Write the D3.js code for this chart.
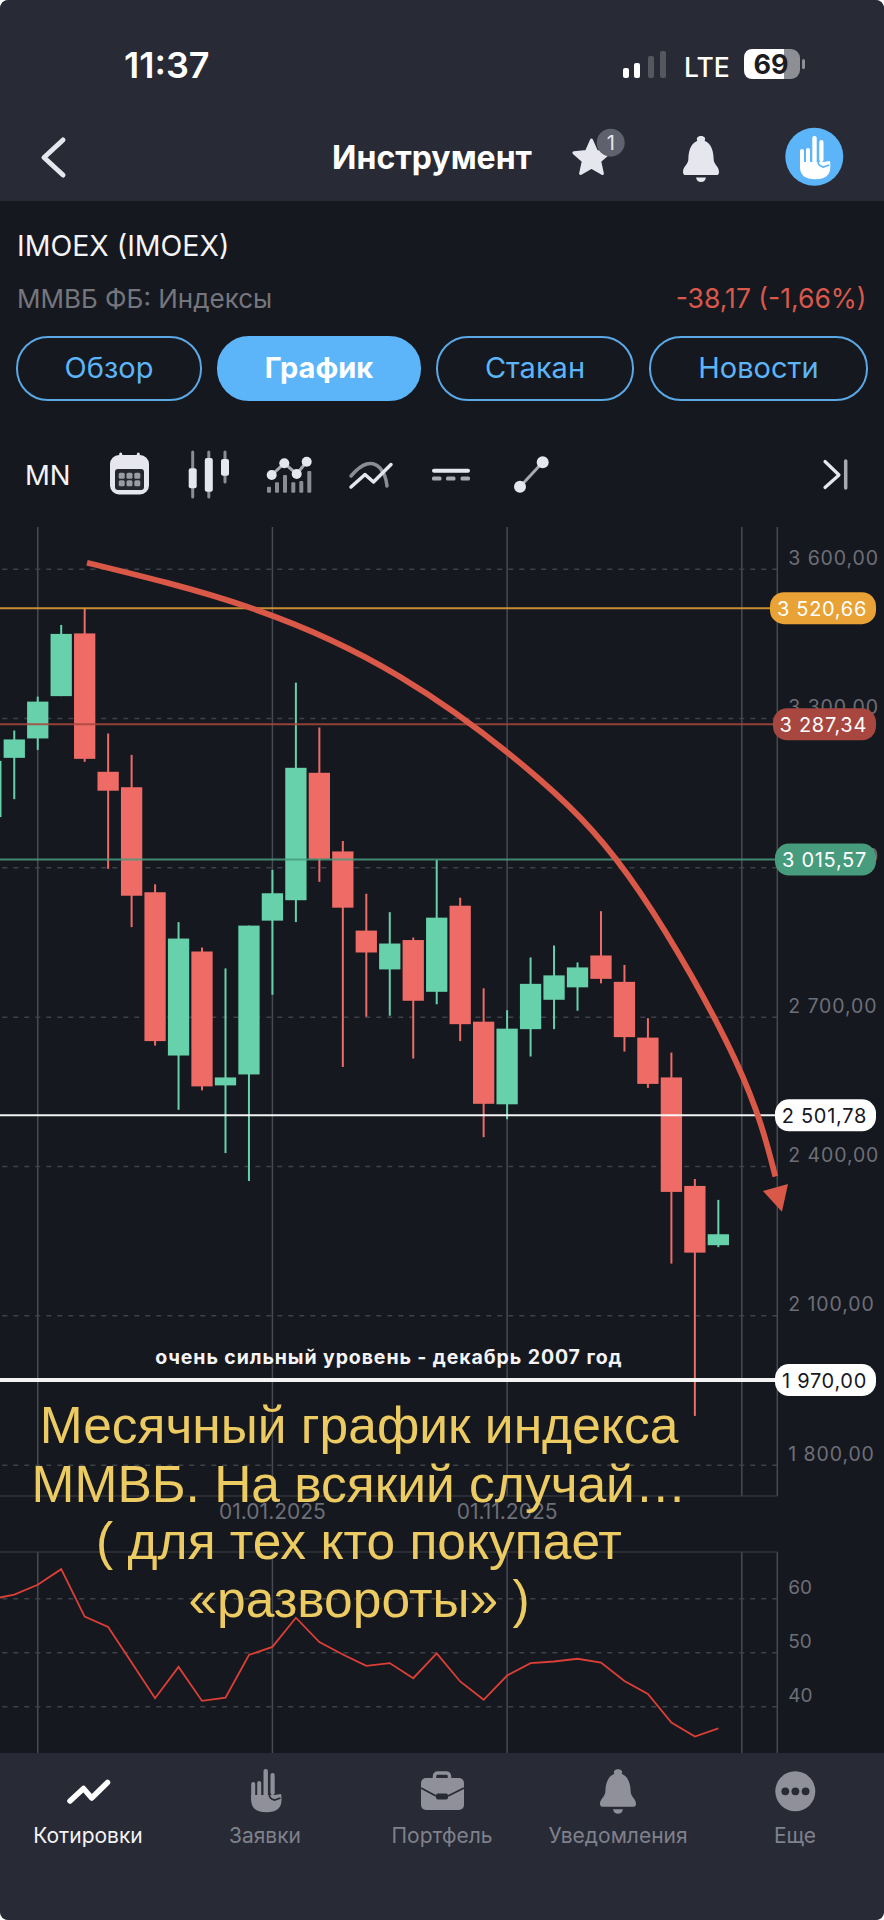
<!DOCTYPE html>
<html>
<head>
<meta charset="utf-8">
<script src="https://cdn.jsdelivr.net/npm/d3@7"></script>
<style>
  html, body { margin: 0; padding: 0; background: #fff; }
  svg { display: block; }
  text { font-family: Inter, "Noto Sans", sans-serif; }
  .axis path.domain { display: none; }
</style>
</head>
<body>
<svg id="screen" width="884" height="1920"></svg>
<script>
// Monthly candles
const months = ["01.2024","02.2024","03.2024","04.2024","05.2024","06.2024","07.2024","08.2024","09.2024","10.2024","11.2024","12.2024",
  "01.2025","02.2025","03.2025","04.2025","05.2025","06.2025","07.2025","08.2025","09.2025","10.2025","11.2025","12.2025",
  "01.2026","02.2026","03.2026","04.2026","05.2026","06.2026","07.2026","08.2026"];
const opens = [3101,3220,3259,3344,3470,3192,3161,2950,2622,2831,2562,2584,2893,2934,3190,3032,2873,2795,2854,2750,2923,2690,2524,2675,2734,2759,2823,2770,2658,2578,2360,2241];
const highs = [3214,3275,3343,3487,3520,3269,3226,2966,2890,2839,2797,2883,2995,3371,3281,3053,2947,2910,2859,3015,2939,2757,2713,2819,2843,2809,2912,2804,2697,2628,2374,2332];
const lows = [3101,3137,3236,3344,3212,2997,2880,2642,2513,2552,2426,2370,2744,2890,2971,2599,2700,2702,2616,2725,2651,2458,2494,2620,2675,2712,2767,2630,2557,2204,1898,2237];
const closes = [3214,3257,3333,3469,3218,3154,2943,2651,2857,2560,2578,2883,2948,3200,3017,2919,2829,2847,2732,2899,2685,2525,2676,2766,2783,2799,2776,2659,2565,2348,2226,2263];

// RSI pane
const rsiValues = [59.8,60.7,62.5,65.4,56.6,54.7,48.1,41.5,47.3,41,41.6,49.5,51,56.4,51.9,49.6,47.5,48,45.2,49.8,44.6,41.2,45.7,48,48.3,48.8,48.1,44.7,42.3,37,34.4,35.9];

// Axes
const priceTicks = [3600,3300,3000,2700,2400,2100,1800];
const rsiTicks = [60,50,40];
const gridMonths = [2,12,22,32];
const dateTicks = [12,22];
const dateLabels = ["01.01.2025","01.11.2025"];

// Horizontal levels
const levelPrices = [3520.66,3287.34,3015.57,2501.78,1970];

// Hand drawn arrow over the chart, in month index / price
const arrowMonths = [4.1,10.9,17.43,23.4,27.66,31.72,33.43];
const arrowPrices = [3612,3524,3383,3176,2950,2613,2379];
const headMonths = [33.71,32.9,33.97];
const headPrices = [2308,2350,2364];

const headlines = ["Месячный график индекса","ММВБ. На всякий случай…","( для тех кто покупает","«развороты» )"];

const colors = {
  bar: "#282a35", bg: "#16181f", up: "#66d1aa", down: "#ee6b66",
  grid: "#484a53", dash: "#3f4149", tick: "#6d6f78", blue: "#5cb5f8",
  icon: "#e6e7ee", iconDim: "#8f9099", navText: "#7f818c", arrow: "#d95848", note: "#eccb62"
};
const levelColors = ["#e8a236","#a8473f","#479c7e","#ffffff","#ffffff"];
const levelWidths = [2,2,2,2,4];
const pillLefts = [770,773,775,775,775];

const W = 884, H = 1920;
const axisX = 777.3;
const mainBottom = 1496, rsiTop = 1552, navTop = 1753;

const x = d3.scaleLinear().domain([0, 32]).range([-9.2, 741.8]);
const y = d3.scaleLinear().domain([3600, 1800]).range([568.7, 1464.7]);
const yRsi = d3.scaleLinear().domain([60, 40]).range([1598.3, 1706.3]);

const svg = d3.select("#screen");

function label(parent, px, py, str, size, fill, opts = {}) {
  return parent.append("text")
    .attr("x", px).attr("y", py)
    .attr("font-size", size).attr("fill", fill)
    .attr("font-weight", opts.weight || 400)
    .attr("text-anchor", opts.anchor || "start")
    .attr("letter-spacing", opts.spacing || 0)
    .style("font-family", opts.family || null)
    .text(str);
}

function priceFormat(v) {
  return d3.format(",.2f")(v).replace(/,/g, " ").replace(".", ",");
}

// Backgrounds
svg.append("rect").attr("width", W).attr("height", H).attr("rx", 9).attr("fill", colors.bg);
svg.append("path")
  .attr("d", `M0,201 V9 Q0,0 9,0 H${W - 9} Q${W},0 ${W},9 V201 Z`)
  .attr("fill", colors.bar);

// Vertical grid
const grid = svg.append("g");
grid.selectAll("line.main").data(gridMonths).join("line")
  .attr("class", "main")
  .attr("x1", (d) => x(d)).attr("x2", (d) => x(d))
  .attr("y1", 527).attr("y2", mainBottom);
grid.selectAll("line.rsi").data(gridMonths).join("line")
  .attr("class", "rsi")
  .attr("x1", (d) => x(d)).attr("x2", (d) => x(d))
  .attr("y1", rsiTop).attr("y2", navTop);
grid.selectAll("line").attr("stroke", colors.grid).attr("stroke-width", 1.5);

// Price axis
const priceAxis = svg.append("g")
  .attr("class", "axis")
  .attr("transform", `translate(${axisX},0)`)
  .call(d3.axisRight(y).tickValues(priceTicks).tickFormat(priceFormat).tickSizeInner(-axisX).tickSizeOuter(0).tickPadding(11));
priceAxis.selectAll("line").attr("stroke", colors.dash).attr("stroke-width", 1.5).attr("stroke-dasharray", "5 6");
priceAxis.selectAll("text")
  .attr("dy", -4.7).attr("fill", colors.tick).attr("font-size", 19.5).attr("letter-spacing", 0.9)
  .style("font-family", "Inter");

// Right border and pane bottom
svg.append("line").attr("x1", axisX).attr("x2", axisX).attr("y1", 527).attr("y2", mainBottom).attr("stroke", colors.grid).attr("stroke-width", 1.5);
svg.append("line").attr("x1", 0).attr("x2", axisX).attr("y1", mainBottom).attr("y2", mainBottom).attr("stroke", colors.dash).attr("stroke-width", 1);
svg.append("line").attr("x1", axisX).attr("x2", axisX).attr("y1", rsiTop).attr("y2", navTop).attr("stroke", colors.grid).attr("stroke-width", 1.5);
svg.append("line").attr("x1", 0).attr("x2", axisX).attr("y1", rsiTop).attr("y2", rsiTop).attr("stroke", colors.dash).attr("stroke-width", 1);

// Date labels
svg.selectAll("text.date").data(dateTicks).join("text")
  .attr("class", "date")
  .attr("x", (d) => x(d)).attr("y", 1519)
  .attr("text-anchor", "middle").attr("font-size", 21).attr("fill", colors.tick)
  .text((d, i) => dateLabels[i]);

// Candles
const candleData = months.map((m, i) => ({ i, open: opens[i], high: highs[i], low: lows[i], close: closes[i] }));
const candleWidth = 21.3;
const candles = svg.append("g").selectAll("g").data(candleData).join("g");
candles.append("line")
  .attr("x1", (d) => x(d.i)).attr("x2", (d) => x(d.i))
  .attr("y1", (d) => y(d.high)).attr("y2", (d) => y(d.low))
  .attr("stroke-width", 2)
  .attr("stroke", (d) => (d.close >= d.open ? colors.up : colors.down));
candles.append("rect")
  .attr("x", (d) => x(d.i) - candleWidth / 2)
  .attr("width", candleWidth)
  .attr("y", (d) => y(Math.max(d.open, d.close)))
  .attr("height", (d) => Math.abs(y(d.open) - y(d.close)))
  .attr("fill", (d) => (d.close >= d.open ? colors.up : colors.down));

// Levels
svg.append("g").selectAll("line").data(levelPrices).join("line")
  .attr("x1", 0).attr("x2", (d, i) => pillLefts[i] + 2)
  .attr("y1", (d) => y(d)).attr("y2", (d) => y(d))
  .attr("stroke", (d, i) => levelColors[i])
  .attr("stroke-width", (d, i) => levelWidths[i])
  .attr("opacity", (d, i) => (i < 3 ? 0.85 : 0.95));

// Note above the 1970 level
label(svg, 388.8, 1364, "очень сильный уровень - декабрь 2007 год", 19.5, "#f4f4f6", { weight: 700, anchor: "middle", spacing: 0.9, family: "Inter" });

// RSI
const rsiPane = svg.append("g").attr("class", "axis").attr("transform", `translate(${axisX},0)`)
  .call(d3.axisRight(yRsi).tickValues(rsiTicks).tickSizeInner(-axisX).tickSizeOuter(0).tickPadding(11));
rsiPane.selectAll("line").attr("stroke", colors.dash).attr("stroke-width", 1.5).attr("stroke-dasharray", "5 6");
rsiPane.selectAll("text").attr("dy", -4.5).attr("fill", colors.tick).attr("font-size", 19).style("font-family", "Inter");

svg.append("path")
  .datum(rsiValues)
  .attr("fill", "none").attr("stroke", "#dc3f35").attr("stroke-width", 1.8)
  .attr("d", d3.line().x((d, i) => x(i)).y((d) => yRsi(d)));

// Nav at the bottom
svg.append("path")
  .attr("d", `M0,${navTop} H${W} V${H - 9} Q${W},${H} ${W - 9},${H} H9 Q0,${H} 0,${H - 9} Z`)
  .attr("fill", colors.bar);

// Arrow
svg.append("path")
  .datum(arrowMonths.map((m, i) => [m, arrowPrices[i]]))
  .attr("fill", "none").attr("stroke", colors.arrow).attr("stroke-width", 5.8)
  .attr("d", d3.line().x((d) => x(d[0])).y((d) => y(d[1])).curve(d3.curveNatural));
svg.append("path")
  .datum(headMonths.map((m, i) => [m, headPrices[i]]))
  .attr("fill", colors.arrow)
  .attr("d", (d) => d3.line().x((p) => x(p[0])).y((p) => y(p[1]))(d) + "Z");

// Level pills
const pills = svg.append("g").selectAll("g").data(levelPrices).join("g");
pills.append("rect")
  .attr("x", (d, i) => pillLefts[i]).attr("width", (d, i) => 876 - pillLefts[i])
  .attr("y", (d) => y(d) - 16).attr("height", 32).attr("rx", 14)
  .attr("fill", (d, i) => levelColors[i]);
pills.append("text")
  .attr("x", 867).attr("y", (d) => y(d) + 7.5)
  .attr("text-anchor", "end").attr("font-size", 20).attr("letter-spacing", 0.7)
  .attr("fill", (d, i) => (i > 2 ? "#16181f" : "#fff"))
  .text(priceFormat);

// Headline painted over the picture
const headlineY = [1443, 1501.5, 1559, 1617];
svg.append("g").selectAll("text").data(headlines).join("text")
  .attr("x", 359).attr("y", (d, i) => headlineY[i])
  .attr("text-anchor", "middle").attr("font-size", 51.5).attr("fill", colors.note)
  .style("font-family", "Liberation Sans")
  .text((d) => d);

// Icons
function bell(g, cx, topY, w, h, color) {
  const s = w / 2;
  g.append("path").attr("fill", color).attr("d",
    `M${cx},${topY} c${s * 0.2},0 ${s * 0.28},${h * 0.07} ${s * 0.2},${h * 0.12}
     c${s * 0.42},${h * 0.08} ${s * 0.5},${h * 0.32} ${s * 0.5},${h * 0.46}
     c0,${h * 0.16} ${s * 0.3},${h * 0.2} ${s * 0.3},${h * 0.34}
     q0,${h * 0.08} -${s * 0.14},${h * 0.08} H${cx - s * 0.86}
     q-${s * 0.14},0 -${s * 0.14},-${h * 0.08}
     c0,-${h * 0.14} ${s * 0.3},-${h * 0.18} ${s * 0.3},-${h * 0.34}
     c0,-${h * 0.14} ${s * 0.08},-${h * 0.38} ${s * 0.5},-${h * 0.46}
     c-${s * 0.08},-${h * 0.05} 0,-${h * 0.12} ${s * 0.2},-${h * 0.12} Z`);
  g.append("path").attr("fill", color).attr("d",
    `M${cx - 5},${topY + h + 2.5} h10 q-1,4.5 -5,4.5 q-4,0 -5,-4.5 Z`);
}

function hand(g, ox, oy, color, bg) {
  const h = g.append("g").attr("transform", `translate(${ox},${oy})`);
  const fingers = [[0.7, 13, 4, 20], [6.7, 12, 4, 20], [13, 0, 4.4, 28], [20, 4, 4.2, 22]];
  h.selectAll("rect").data(fingers).join("rect")
    .attr("x", (d) => d[0]).attr("y", (d) => d[1]).attr("width", (d) => d[2]).attr("height", (d) => d[3])
    .attr("rx", 2).attr("fill", color);
  h.append("path").attr("fill", color)
    .attr("d", "M0.7,26 H24 L30.5,25 Q31,26 31,29 V31 Q31,43.3 16,43.3 Q0.7,43.3 0.7,31 Z");
  h.append("path").attr("fill", "none").attr("stroke", bg).attr("stroke-width", 1.8)
    .attr("d", "M19,24 Q18,30 24,31 L30,29");
}

// Status bar
label(svg, 124, 78, "11:37", 36, "#fff", { weight: 600 });
[[623, 10], [634, 15]].forEach((b) => svg.append("rect").attr("x", b[0]).attr("y", 78 - b[1]).attr("width", 6).attr("height", b[1]).attr("rx", 2).attr("fill", "#fff"));
[[648, 22], [660, 27]].forEach((b) => svg.append("rect").attr("x", b[0]).attr("y", 78 - b[1]).attr("width", 6).attr("height", b[1]).attr("rx", 2).attr("fill", "#55575f"));
label(svg, 684, 76.5, "LTE", 26.5, "#fff", { weight: 500 });
svg.append("rect").attr("x", 744).attr("y", 49).attr("width", 56).attr("height", 30).attr("rx", 9).attr("fill", "#8e8f95");
svg.append("path").attr("d", "M753,49 H784 V79 H753 Q744,79 744,70 V58 Q744,49 753,49 Z").attr("fill", "#fff");
svg.append("rect").attr("x", 802).attr("y", 59).attr("width", 3).attr("height", 10).attr("rx", 1.5).attr("fill", "#8e8f95");
label(svg, 771, 74, "69", 27, "#1b1c22", { weight: 700, anchor: "middle" });

// Header
svg.append("path").attr("d", "M63,140 L44,157.5 L63,175").attr("fill", "none").attr("stroke", colors.icon).attr("stroke-width", 5).attr("stroke-linecap", "round").attr("stroke-linejoin", "round");
label(svg, 432, 169, "Инструмент", 32, "#fff", { weight: 700, anchor: "middle" });
const starPts = d3.range(10).map((i) => {
  const r = i % 2 ? 8.6 : 18.5;
  const a = -Math.PI / 2 + (i * Math.PI) / 5;
  return [591.5 + r * Math.cos(a), 158.5 + r * Math.sin(a)];
});
svg.append("path").attr("d", d3.line()(starPts) + "Z").attr("fill", colors.icon).attr("stroke", colors.icon).attr("stroke-width", 3).attr("stroke-linejoin", "round");
svg.append("circle").attr("cx", 610.7).attr("cy", 142.7).attr("r", 14).attr("fill", "#5f616c");
label(svg, 610.7, 150, "1", 20, "#e6e7ee", { anchor: "middle" });
bell(svg, 701, 136, 36, 39, colors.icon);
svg.append("circle").attr("cx", 814.3).attr("cy", 156.7).attr("r", 29).attr("fill", colors.blue);
hand(svg, 799.3, 136, "#fff", colors.blue);

// Title rows
label(svg, 17, 256, "IMOEX (IMOEX)", 28.5, "#f4f4f6");
label(svg, 17, 308, "ММВБ ФБ: Индексы", 26, "#75767d");
label(svg, 866.5, 308, "-38,17 (-1,66%)", 26.5, "#d9594c", { anchor: "end" });

// Tabs
const tabNames = ["Обзор", "График", "Стакан", "Новости"];
const tabLefts = [17, 218, 437, 650];
const tabRights = [201, 420, 633, 867];
tabNames.forEach((t, i) => {
  const on = i === 1;
  svg.append("rect").attr("x", tabLefts[i]).attr("y", 337).attr("width", tabRights[i] - tabLefts[i]).attr("height", 63).attr("rx", 31)
    .attr("fill", on ? colors.blue : "none").attr("stroke", on ? colors.blue : "#5aa9e6").attr("stroke-width", 2);
  label(svg, (tabLefts[i] + tabRights[i]) / 2, 378, t, 29, on ? "#fff" : colors.blue, { anchor: "middle", weight: on ? 700 : 400 });
});

// Toolbar
label(svg, 25, 485, "MN", 27.5, "#f4f4f6");
const tb = svg.append("g");
tb.append("rect").attr("x", 110).attr("y", 455).attr("width", 39).attr("height", 39.5).attr("rx", 9).attr("fill", colors.icon);
[120.7, 138.3].forEach((d) => tb.append("rect").attr("x", d - 1.5).attr("y", 452.5).attr("width", 3).attr("height", 6).attr("rx", 1.5).attr("fill", colors.icon));
tb.append("rect").attr("x", 115).attr("y", 469).attr("width", 29).attr("height", 21).attr("rx", 3).attr("fill", "#25272f");
[121.7, 129.5, 137.3].forEach((cx) => [475.7, 483.3].forEach((cy) => tb.append("rect").attr("x", cx - 3).attr("y", cy - 3).attr("width", 6).attr("height", 6).attr("rx", 1.5).attr("fill", "#9a9ba3")));
[[192.7, 452, 497, 468.3, 488.3], [208.8, 452, 497, 458, 491.7], [225, 452, 482, 459, 475.7]].forEach((c) => {
  tb.append("line").attr("x1", c[0]).attr("x2", c[0]).attr("y1", c[1]).attr("y2", c[2]).attr("stroke", "#8b8c94").attr("stroke-width", 3).attr("stroke-linecap", "round");
  tb.append("rect").attr("x", c[0] - 4).attr("y", c[3]).attr("width", 8).attr("height", c[4] - c[3]).attr("rx", 2).attr("fill", colors.icon);
});
[[269, 486.7], [277, 482.3], [285, 475], [293.3, 482.3], [301.3, 481], [309.3, 471]].forEach((b) => tb.append("rect").attr("x", b[0] - 2).attr("y", b[1]).attr("width", 4).attr("height", 492.7 - b[1]).attr("rx", 1).attr("fill", "#8b8c94"));
const dots = [[271.7, 475], [284.3, 463.3], [296.7, 474], [306.7, 461.7]];
tb.append("path").attr("d", d3.line()(dots)).attr("fill", "none").attr("stroke", "#a8a9b1").attr("stroke-width", 3);
dots.forEach((d) => tb.append("circle").attr("cx", d[0]).attr("cy", d[1]).attr("r", 5).attr("fill", colors.icon));
tb.append("path").attr("d", "M351,476 Q368,456 380,468 Q386,475 387,486").attr("fill", "none").attr("stroke", "#8b8c94").attr("stroke-width", 3.5).attr("stroke-linecap", "round");
tb.append("path").attr("d", "M351,487 L365,474.5 L373.5,482 L391,464.5").attr("fill", "none").attr("stroke", colors.icon).attr("stroke-width", 3.5).attr("stroke-linecap", "round").attr("stroke-linejoin", "round");
tb.append("rect").attr("x", 432).attr("y", 468.7).attr("width", 38).attr("height", 4).attr("rx", 2).attr("fill", colors.icon);
[432, 446, 460.5].forEach((d) => tb.append("rect").attr("x", d).attr("y", 476.5).attr("width", 9.5).attr("height", 4).attr("rx", 1.5).attr("fill", "#a8a9b1"));
tb.append("line").attr("x1", 520).attr("y1", 486.7).attr("x2", 542.7).attr("y2", 462.3).attr("stroke", "#a8a9b1").attr("stroke-width", 3);
[[520, 486.7], [542.7, 462.3]].forEach((d) => tb.append("circle").attr("cx", d[0]).attr("cy", d[1]).attr("r", 6).attr("fill", colors.icon));
tb.append("path").attr("d", "M825,461.5 L839,475 L825,487.5").attr("fill", "none").attr("stroke", colors.icon).attr("stroke-width", 3.2).attr("stroke-linecap", "round").attr("stroke-linejoin", "round");
tb.append("line").attr("x1", 845.7).attr("x2", 845.7).attr("y1", 461).attr("y2", 488).attr("stroke", "#a8a9b1").attr("stroke-width", 3.5).attr("stroke-linecap", "round");

// Bottom nav
const navNames = ["Котировки", "Заявки", "Портфель", "Уведомления", "Еще"];
const navCenters = [88, 265, 442, 618, 795];
navNames.forEach((t, i) => label(svg, navCenters[i], 1843, t, 21, i === 0 ? "#f4f4f6" : colors.navText, { anchor: "middle" }));
svg.append("path").attr("d", "M70,1801 L83.5,1788.5 L91.7,1798 L107.5,1782.5").attr("fill", "none").attr("stroke", "#fff").attr("stroke-width", 5.5).attr("stroke-linecap", "round").attr("stroke-linejoin", "round");
hand(svg, 250.5, 1769, colors.iconDim, colors.bar);
const bag = svg.append("g");
bag.append("rect").attr("x", 434.5).attr("y", 1773).attr("width", 15).attr("height", 12).attr("rx", 3).attr("fill", "none").attr("stroke", colors.iconDim).attr("stroke-width", 3.5);
bag.append("rect").attr("x", 421).attr("y", 1778).attr("width", 43).attr("height", 32).attr("rx", 5).attr("fill", colors.iconDim);
bag.append("path").attr("d", "M421,1788 L436,1796 M448,1796 L464,1788").attr("stroke", colors.bar).attr("stroke-width", 1.8);
bag.append("rect").attr("x", 436).attr("y", 1793.5).attr("width", 12).attr("height", 6).attr("rx", 2).attr("fill", colors.bar);
bell(svg, 618, 1769.3, 36, 37.5, colors.iconDim);
svg.append("circle").attr("cx", 795.3).attr("cy", 1791.3).attr("r", 20).attr("fill", colors.iconDim);
[785.3, 795.4, 805.6].forEach((d) => svg.append("circle").attr("cx", d).attr("cy", 1791.3).attr("r", 3.9).attr("fill", colors.bar));
</script>
</body>
</html>
